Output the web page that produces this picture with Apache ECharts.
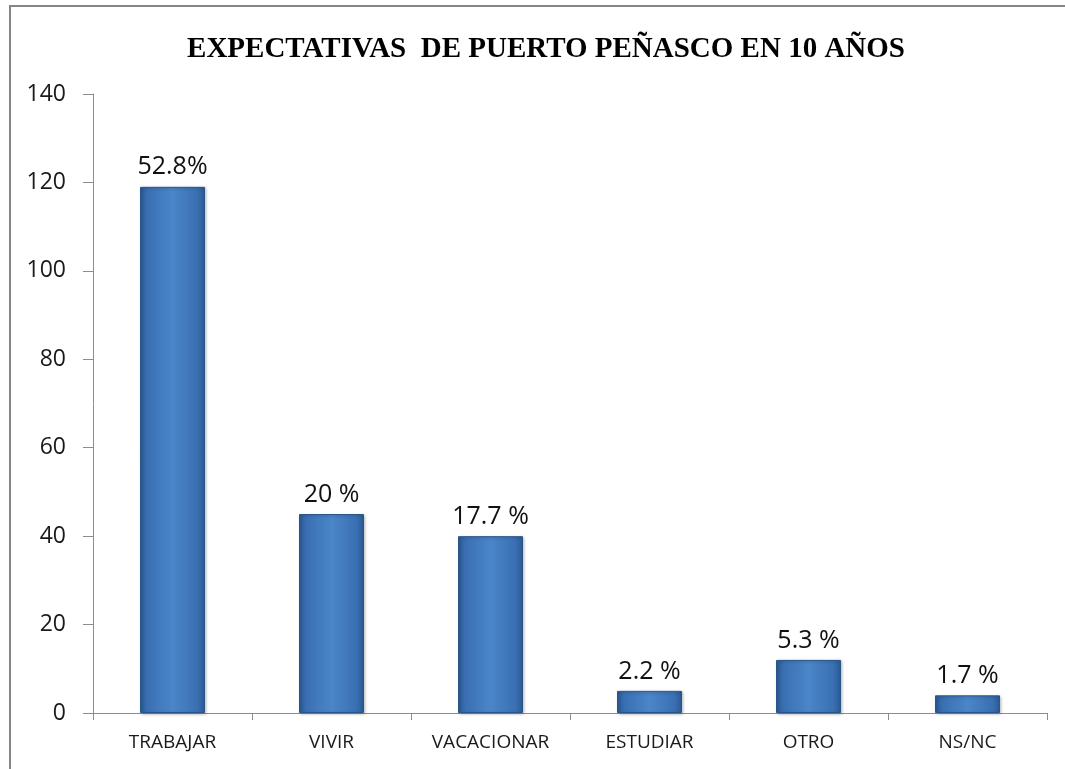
<!DOCTYPE html>
<html lang="es">

<head>
  <meta charset="utf-8" />
  <title></title>
  <script src="https://cdn.jsdelivr.net/npm/echarts@6/dist/echarts.min.js"></script>
  <style>
    * {
      margin: 0;
      padding: 0;
    }

    #chart-container {
      position: relative;
      width: 1065px;
      height: 769px;
      overflow: hidden;
      background: #fff;
    }
  </style>
</head>

<body>
  <div id="chart-container"></div>

  <script>
    var categories = ["TRABAJAR", "VIVIR", "VACACIONAR", "ESTUDIAR", "OTRO", "NS/NC"];
    var counts = [119, 45, 40, 5, 12, 4];
    var percentLabels = ["52.8%", "20 %", "17.7 %", "2.2 %", "5.3 %", "1.7 %"];
    var yTicks = { min: 0, max: 140, interval: 20 };

    var dom = document.getElementById("chart-container");
    var myChart = echarts.init(dom, null, { renderer: "canvas" });

    var barColor = new echarts.graphic.LinearGradient(0, 0, 1, 0, [
      { offset: 0, color: "#2b5a93" },
      { offset: 0.12, color: "#3a70b3" },
      { offset: 0.5, color: "#4a86c9" },
      { offset: 0.88, color: "#3a70b3" },
      { offset: 1, color: "#2b5a93" }
    ]);

    var option = {
      backgroundColor: "#fff",
      animation: false,
      title: {
        text: "EXPECTATIVAS  DE PUERTO PEÑASCO EN 10 AÑOS",
        left: 541,
        top: 30,
        textAlign: "center",
        textStyle: {
          fontFamily: "Liberation Serif",
          fontWeight: "bold",
          fontSize: 29,
          color: "#000"
        }
      },
      graphic: [
        {
          type: "rect",
          shape: { x: 10, y: 6, width: 1070, height: 780 },
          style: { fill: "none", stroke: "#858585", lineWidth: 2 },
          silent: true
        }
      ],
      grid: { left: 93, right: 18, top: 94, bottom: 56 },
      xAxis: {
        type: "category",
        data: categories,
        axisLine: { lineStyle: { color: "#8c8c8c", width: 1 } },
        axisTick: { show: true, length: 7, lineStyle: { color: "#8c8c8c" } },
        axisLabel: {
          interval: 0,
          color: "#1a1a1a",
          fontFamily: "Open Sans",
          fontSize: 19,
          margin: 20
        }
      },
      yAxis: {
        type: "value",
        min: yTicks.min,
        max: yTicks.max,
        interval: yTicks.interval,
        splitLine: { show: false },
        axisLine: { show: true, lineStyle: { color: "#8c8c8c", width: 1 } },
        axisTick: { show: true, length: 10, lineStyle: { color: "#8c8c8c" } },
        axisLabel: {
          color: "#1a1a1a",
          fontFamily: "Open Sans",
          fontSize: 23,
          margin: 27
        }
      },
      series: [
        {
          type: "bar",
          data: counts,
          barWidth: 65,
          itemStyle: {
            color: barColor,
            borderColor: "#2a558a",
            borderWidth: 1,
            shadowColor: "rgba(0,0,0,0.25)",
            shadowBlur: 3,
            shadowOffsetX: 1,
            shadowOffsetY: 1
          },
          label: {
            show: true,
            position: "top",
            distance: 7,
            color: "#111",
            fontFamily: "Open Sans",
            fontSize: 25,
            formatter: function (p) {
              return percentLabels[p.dataIndex];
            }
          }
        }
      ]
    };

    myChart.setOption(option);
    window.addEventListener("resize", myChart.resize);
  </script>
</body>

</html>
